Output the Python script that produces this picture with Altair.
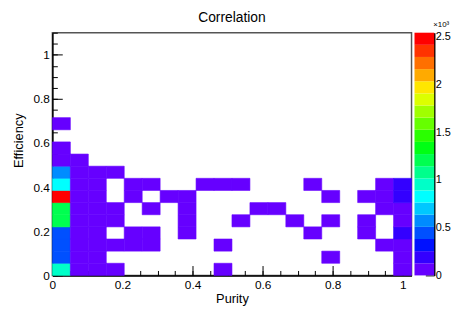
import altair as alt
import pandas as pd

TITLE = "Correlation"
X_TITLE = "Purity"
Y_TITLE = "Efficiency"

# histogram binning (20 x bins over [0, 1.025], 20 y bins over [0, 1.1])
X_MAX = 1.025
Y_MAX = 1.1
NX = 20
NY = 20
Z_MAX = 2540  # colour-axis maximum

# 20-level colour palette (bottom -> top of colour bar)
palette = [
    "#6600ff", "#3300ff", "#0011ff", "#0050ff", "#008cff",
    "#00c8ff", "#00ffff", "#00ffc8", "#00ff8c", "#00ff50",
    "#00ff14", "#2aff00", "#66ff00", "#a0ff00", "#dcff00",
    "#ffe600", "#ffaa00", "#ff7000", "#ff3300", "#ff0000",
]

# bin contents, one list per efficiency row (row 0 = lowest), 20 purity bins each
row00 = [950, 110, 60, 20, 0, 0, 0, 0, 0, 10, 0, 0, 0, 0, 0, 0, 0, 0, 0, 80]
row01 = [450, 100, 50, 0, 0, 0, 0, 0, 0, 0, 0, 0, 0, 0, 0, 10, 0, 0, 0, 90]
row02 = [470, 110, 70, 30, 20, 15, 0, 0, 0, 10, 0, 0, 0, 0, 0, 0, 0, 0, 20, 100]
row03 = [430, 100, 60, 0, 20, 15, 0, 10, 0, 0, 0, 0, 0, 0, 10, 0, 0, 15, 0, 150]
row04 = [1200, 110, 70, 25, 0, 0, 0, 15, 0, 0, 10, 0, 0, 10, 0, 10, 0, 15, 0, 110]
row05 = [1190, 100, 60, 20, 0, 10, 0, 10, 0, 0, 0, 10, 10, 0, 0, 0, 0, 0, 20, 100]
row06 = [2530, 90, 50, 0, 15, 0, 10, 10, 0, 0, 0, 0, 0, 0, 0, 10, 0, 10, 20, 160]
row07 = [820, 80, 40, 0, 15, 10, 0, 0, 10, 10, 10, 0, 0, 0, 10, 0, 0, 0, 20, 170]
row08 = [570, 60, 30, 15, 0, 0, 0, 0, 0, 0, 0, 0, 0, 0, 0, 0, 0, 0, 0, 0]
row09 = [90, 20, 0, 0, 0, 0, 0, 0, 0, 0, 0, 0, 0, 0, 0, 0, 0, 0, 0, 0]
row10 = [60, 0, 0, 0, 0, 0, 0, 0, 0, 0, 0, 0, 0, 0, 0, 0, 0, 0, 0, 0]
row11 = [0, 0, 0, 0, 0, 0, 0, 0, 0, 0, 0, 0, 0, 0, 0, 0, 0, 0, 0, 0]
row12 = [30, 0, 0, 0, 0, 0, 0, 0, 0, 0, 0, 0, 0, 0, 0, 0, 0, 0, 0, 0]
rows = [row00, row01, row02, row03, row04, row05, row06,
        row07, row08, row09, row10, row11, row12]

x_major = [0, 0.2, 0.4, 0.6, 0.8, 1.0]
x_minor = [round(0.05 * k, 2) for k in range(21)]
y_major = [0, 0.2, 0.4, 0.6, 0.8, 1.0]
y_minor = [round(0.05 * k, 2) for k in range(23)]
z_ticks = [0, 500, 1000, 1500, 2000, 2500]

# ---- tables built from the arrays above ----
dx = X_MAX / NX
dy = Y_MAX / NY
recs = []
for j, row in enumerate(rows):
    for i, c in enumerate(row):
        if c > 0:
            recs.append(dict(x0=i * dx, x1=(i + 1) * dx,
                             y0=j * dy, y1=(j + 1) * dy, count=c))
cells = pd.DataFrame(recs)

nb = len(palette)
bands = pd.DataFrame(dict(
    lo=[k * Z_MAX / nb for k in range(nb)],
    hi=[(k + 1) * Z_MAX / nb for k in range(nb)],
    mid=[(k + 0.5) * Z_MAX / nb for k in range(nb)],
))

FONT = "Liberation Sans"
xs = alt.Scale(domain=[0, X_MAX], nice=False, zero=False)
ys = alt.Scale(domain=[0, Y_MAX], nice=False, zero=False)
zs = alt.Scale(type="quantize", domain=[0, Z_MAX], range=palette)

ax_x_main = alt.Axis(orient="bottom", values=x_major, format="~g", ticks=False,
                     tickSize=0, domain=True, domainColor="black", domainWidth=1.5,
                     labelFontSize=12, labelPadding=4, labelFlush=False,
                     labelOverlap=False, grid=False, title=X_TITLE,
                     titleFontSize=13, titleFontWeight="normal", titlePadding=2)
ax_y_main = alt.Axis(orient="left", values=y_major, format="~g", ticks=False,
                     tickSize=0, domain=True, domainColor="black", domainWidth=1.5,
                     labelFontSize=12, labelPadding=3, labelFlush=False,
                     labelOverlap=False, grid=False, title=Y_TITLE,
                     titleFontSize=13, titleFontWeight="normal", titlePadding=8,
                     titleY=109)
ax_x_major = alt.Axis(orient="bottom", values=x_major, offset=-10, tickSize=10,
                      labels=False, domain=False, grid=False, title=None,
                      tickColor="black")
ax_y_major = alt.Axis(orient="left", values=y_major, offset=-10, tickSize=10,
                      labels=False, domain=False, grid=False, title=None,
                      tickColor="black")
ax_x_minor = alt.Axis(orient="bottom", values=x_minor, offset=-5, tickSize=5,
                      labels=False, domain=False, grid=False, title=None,
                      tickColor="black")
ax_y_minor = alt.Axis(orient="left", values=y_minor, offset=-5, tickSize=5,
                      labels=False, domain=False, grid=False, title=None,
                      tickColor="black")

base = alt.Chart(cells)
heat = base.mark_rect(strokeWidth=0.6).encode(
    x=alt.X("x0:Q", scale=xs, axis=ax_x_main),
    x2="x1:Q",
    y=alt.Y("y0:Q", scale=ys, axis=ax_y_main),
    y2="y1:Q",
    color=alt.Color("count:Q", scale=zs, legend=None),
    stroke=alt.Stroke("count:Q", scale=zs, legend=None),
)
major_ticks = base.mark_point(opacity=0).encode(
    x=alt.X("x0:Q", scale=xs, axis=ax_x_major),
    y=alt.Y("y0:Q", scale=ys, axis=ax_y_major),
)
minor_ticks = base.mark_point(opacity=0).encode(
    x=alt.X("x0:Q", scale=xs, axis=ax_x_minor),
    y=alt.Y("y0:Q", scale=ys, axis=ax_y_minor),
)
main = alt.layer(heat, major_ticks, minor_ticks).resolve_axis(
    x="independent", y="independent"
).properties(
    width=364, height=246,
    title=alt.TitleParams(TITLE, fontSize=14, fontWeight="normal", anchor="middle",
                          frame="group", offset=7, font=FONT, color="black"),
    view=alt.ViewBackground(stroke="#555555", strokeWidth=1.5),
)

cs = alt.Scale(domain=[0, Z_MAX], nice=False, zero=False)
ax_c_main = alt.Axis(orient="right", values=z_ticks, labelExpr="datum.value / 1000",
                     ticks=False, tickSize=0, domain=True, domainColor="black",
                     domainWidth=1.5, labelFontSize=11, labelPadding=1,
                     labelFlush=False, labelOverlap=False, grid=False, title=None)
ax_c_ticks = alt.Axis(orient="right", values=z_ticks, offset=-9, tickSize=9,
                      labels=False, domain=False, grid=False, title=None,
                      tickColor="black")
cbase = alt.Chart(bands)
cbar = cbase.mark_rect().encode(
    x=alt.XDatum(0, type="quantitative", scale=alt.Scale(domain=[0, 1]), axis=None),
    x2=alt.X2Datum(1),
    y=alt.Y("lo:Q", scale=cs, axis=ax_c_main),
    y2="hi:Q",
    color=alt.Color("mid:Q", scale=zs, legend=None),
)
cbar_ticks = cbase.mark_point(opacity=0).encode(
    y=alt.Y("lo:Q", scale=cs, axis=ax_c_ticks),
)
colorbar = alt.layer(cbar, cbar_ticks).resolve_axis(y="independent").properties(
    width=20, height=246,
    title=alt.TitleParams("×10³", fontSize=8, fontWeight="normal", anchor="start",
                          frame="group", dx=19, offset=2, font=FONT, color="black"),
    view=alt.ViewBackground(stroke=None),
)

chart = alt.hconcat(main, colorbar, spacing=1).properties(
    padding={"left": 3, "top": 0, "right": 0, "bottom": 0}
).configure(font=FONT).configure_axis(
    labelColor="black", titleColor="black", labelFont=FONT, titleFont=FONT
)

chart.save("out.html", embed_options={"renderer": "svg", "actions": False})
